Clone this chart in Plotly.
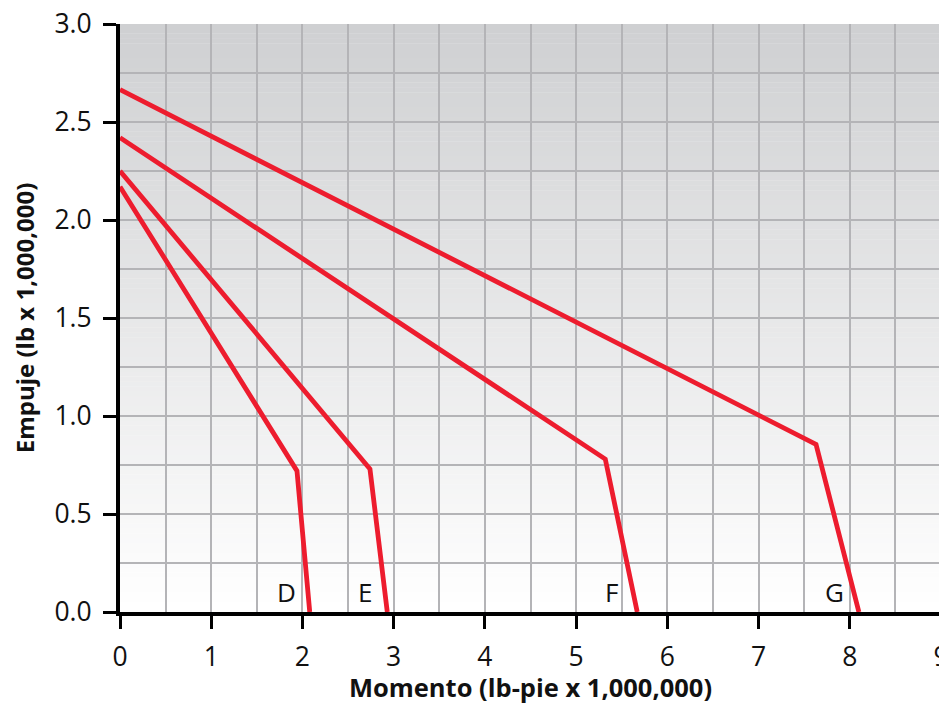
import plotly.graph_objects as go

# ---- data ----
series_names = ["D", "E", "F", "G"]
d_x = [0.0, 1.94, 2.08]
d_y = [2.17, 0.72, 0.0]
e_x = [0.0, 2.74, 2.93]
e_y = [2.25, 0.73, 0.0]
f_x = [0.0, 5.32, 5.67]
f_y = [2.42, 0.78, 0.0]
g_x = [0.0, 7.63, 8.10]
g_y = [2.665, 0.855, 0.0]
label_x = [1.83, 2.69, 5.39, 7.83]
label_y = [0.10, 0.10, 0.10, 0.10]

x_ticks = [0, 1, 2, 3, 4, 5, 6, 7, 8, 9]
y_ticks = [0.0, 0.5, 1.0, 1.5, 2.0, 2.5, 3.0]
y_tick_text = ["0.0", "0.5", "1.0", "1.5", "2.0", "2.5", "3.0"]
x_title = "Momento (lb-pie x 1,000,000)"
y_title = "Empuje (lb x 1,000,000)"

RED = "#ED1C2E"
GRID = "#B4B4B7"
FONT = "Open Sans"
TXT = "#111111"

fig = go.Figure()
for xs, ys, name in zip([d_x, e_x, f_x, g_x], [d_y, e_y, f_y, g_y], series_names):
    fig.add_trace(go.Scatter(x=xs, y=ys, mode="lines", name=name,
                             line=dict(color=RED, width=4.8), showlegend=False,
                             hoverinfo="skip"))

# gradient background (bands below gridlines)
n_bands = 120
top = (0xCF, 0xD0, 0xD2)
bot = (0xFF, 0xFF, 0xFF)
shapes = []
for i in range(n_bands):
    t = i / (n_bands - 1)
    c = tuple(round(bot[k] + (top[k] - bot[k]) * t) for k in range(3))
    y0 = 3.0 * i / n_bands
    y1 = 3.0 * (i + 1) / n_bands
    shapes.append(dict(type="rect", xref="x", yref="y", x0=0, x1=9, y0=y0, y1=y1 + 0.002,
                       fillcolor="rgb(%d,%d,%d)" % c, line=dict(width=0), layer="below"))

annotations = []
for name, lx, ly in zip(series_names, label_x, label_y):
    annotations.append(dict(x=lx, y=ly, xref="x", yref="y", text=name, showarrow=False,
                            font=dict(family=FONT, size=26, color=TXT)))

axis_common = dict(
    showgrid=True, gridcolor=GRID, gridwidth=2,
    showline=True, linecolor="black", linewidth=4,
    ticks="outside", ticklen=13, tickwidth=3, tickcolor="black",
    tickfont=dict(family=FONT, size=26.5, color=TXT),
    ticklabeloverflow="allow",
    automargin=False,
    zeroline=False,
)

fig.update_layout(
    width=939, height=696,
    margin=dict(l=112, r=6, t=16, b=92, autoexpand=False),
    paper_bgcolor="white", plot_bgcolor="white",
    shapes=shapes, annotations=annotations,
    font=dict(family=FONT, color=TXT),
    xaxis=dict(range=[0, 9], tickvals=x_ticks, ticktext=[str(v) for v in x_ticks],
               minor=dict(dtick=0.5, showgrid=True, gridcolor=GRID, gridwidth=2, ticks=""),
               ticklabelstandoff=5,
               title=dict(text="<b>%s</b>" % x_title,
                          font=dict(family=FONT, size=25.5, color=TXT), standoff=3),
               **axis_common),
    yaxis=dict(range=[0, 3], tickvals=y_ticks, ticktext=y_tick_text,
               minor=dict(dtick=0.25, showgrid=True, gridcolor=GRID, gridwidth=2, ticks=""),
               ticklabelstandoff=6,
               title=dict(text="<b>%s</b>" % y_title,
                          font=dict(family=FONT, size=24, color=TXT), standoff=21),
               **axis_common),
)

fig.write_html("out.html")
